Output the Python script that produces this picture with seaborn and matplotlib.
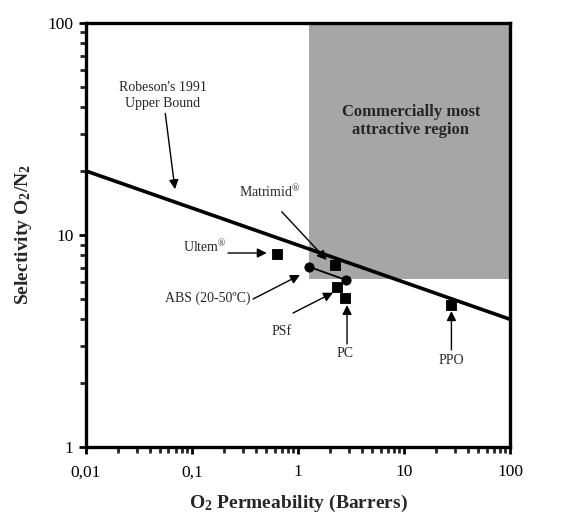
import matplotlib
matplotlib.use("Agg")
import matplotlib.pyplot as plt
import matplotlib.ticker as mticker
from matplotlib.patches import Rectangle
import seaborn as sns
import pandas as pd

# Membrane materials: O2 permeability (Barrer) and O2/N2 selectivity
materials = ["Ultem", "Matrimid", "PSf", "PC", "PPO"]
permeability = [0.64, 2.23, 2.35, 2.78, 27.6]
selectivity = [8.1, 7.17, 5.69, 5.04, 4.67]

# ABS measured between 20 and 50 °C
abs_permeability = [1.27, 2.82]
abs_selectivity = [7.07, 6.13]

# Robeson 1991 upper bound end points
robeson_x = [0.01, 100]
robeson_y = [20, 4]

# Commercially attractive region (x range, y range)
region_x = [1.27, 98]
region_y = [6.2, 97]

x_ticks = [0.01, 0.1, 1, 10, 100]
x_tick_labels = ["0,01", "0,1", "1", "10", "100"]
y_ticks = [1, 10, 100]
y_tick_labels = ["1", "10", "100"]

sns.set_style("ticks")
plt.rcParams["font.family"] = ["Liberation Serif", "DejaVu Serif"]
plt.rcParams["mathtext.fontset"] = "custom"
plt.rcParams["mathtext.rm"] = "Liberation Serif"
plt.rcParams["mathtext.bf"] = "Liberation Serif:bold"
plt.rcParams["mathtext.it"] = "Liberation Serif:italic"
plt.rcParams["mathtext.default"] = "regular"

fig = plt.figure(figsize=(5.64, 5.15), dpi=100)
ax = fig.add_axes([0.1525, 0.132, 0.7518, 0.824])
ax.set_xscale("log")
ax.set_yscale("log")
ax.set_xlim(0.01, 100)
ax.set_ylim(1, 100)

ax.add_patch(Rectangle((region_x[0], region_y[0]), region_x[1] - region_x[0],
                       region_y[1] - region_y[0], facecolor="#a6a6a6",
                       edgecolor="none", zorder=0))

sns.lineplot(x=robeson_x, y=robeson_y, ax=ax, color="black", lw=2.6,
             sort=False, estimator=None, zorder=2)

abs_df = pd.DataFrame({"P": abs_permeability, "S": abs_selectivity})
sns.lineplot(data=abs_df, x="P", y="S", ax=ax, color="black", lw=1.3,
             sort=False, estimator=None, zorder=3)
sns.scatterplot(data=abs_df, x="P", y="S", ax=ax, color="black", marker="o",
                s=45, edgecolor="black", zorder=4)

mat_df = pd.DataFrame({"material": materials, "P": permeability, "S": selectivity})
sns.scatterplot(data=mat_df, x="P", y="S", ax=ax, color="black", marker="s",
                s=60, edgecolor="black", zorder=4)

arrow = dict(arrowstyle="-|>", color="black", lw=1.0, mutation_scale=14,
             shrinkA=0, shrinkB=0)
fs = 10

ax.annotate("Robeson's 1991\nUpper Bound", xy=(0.0691, 16.4), xytext=(0.0532, 38.7),
            ha="center", va="bottom", fontsize=fs, arrowprops=arrow,
            linespacing=1.35)
ax.text(11.6, 34.4, "Commercially most\nattractive region", ha="center",
        va="center", fontsize=12, fontweight="bold", linespacing=1.2)
ax.annotate("Matrimid$^{®}$", xy=(1.866, 7.61), xytext=(0.544, 15.9),
            ha="center", va="center", fontsize=fs)
ax.annotate("", xy=(1.866, 7.61), xytext=(0.702, 12.85), arrowprops=arrow)
ax.annotate("Ultem$^{®}$", xy=(0.507, 8.21), xytext=(0.1327, 8.76),
            ha="center", va="center", fontsize=fs)
ax.annotate("", xy=(0.507, 8.21), xytext=(0.2186, 8.21), arrowprops=arrow)
ax.annotate("ABS (20-50ºC)", xy=(1.044, 6.47), xytext=(0.140, 5.04),
            ha="center", va="center", fontsize=fs)
ax.annotate("", xy=(1.044, 6.47), xytext=(0.376, 4.98), arrowprops=arrow)
ax.annotate("PSf", xy=(2.14, 5.34), xytext=(0.706, 3.52),
            ha="center", va="center", fontsize=fs)
ax.annotate("", xy=(2.14, 5.34), xytext=(0.897, 4.28), arrowprops=arrow)
ax.annotate("PC", xy=(2.90, 4.67), xytext=(2.78, 2.77),
            ha="center", va="center", fontsize=fs)
ax.annotate("", xy=(2.90, 4.67), xytext=(2.90, 3.06), arrowprops=arrow)
ax.annotate("PPO", xy=(28.0, 4.37), xytext=(28.2, 2.57),
            ha="center", va="center", fontsize=fs)
ax.annotate("", xy=(28.0, 4.37), xytext=(28.0, 2.87), arrowprops=arrow)

ax.set_xticks(x_ticks)
ax.set_xticklabels(x_tick_labels)
ax.set_yticks(y_ticks)
ax.set_yticklabels(y_tick_labels)
ax.xaxis.set_minor_locator(mticker.LogLocator(base=10, subs=range(2, 10)))
ax.yaxis.set_minor_locator(mticker.LogLocator(base=10, subs=range(2, 10)))
ax.xaxis.set_minor_formatter(mticker.NullFormatter())
ax.yaxis.set_minor_formatter(mticker.NullFormatter())
ax.tick_params(axis="both", which="major", direction="out", length=5, width=2,
               labelsize=12.5, colors="black")
ax.tick_params(axis="both", which="minor", direction="out", length=4, width=2)
ax.tick_params(axis="x", which="major", pad=7.5)
ax.tick_params(axis="y", which="major", pad=4)
ax.tick_params(top=False, right=False, which="both")

for side in ["left", "right", "top", "bottom"]:
    ax.spines[side].set_visible(True)
    ax.spines[side].set_linewidth(2.4)
    ax.spines[side].set_color("black")

ax.set_xlabel(r"O$_\mathbf{2}$ Permeability (Barrers)", fontsize=14,
              fontweight="bold", labelpad=9)
ax.set_ylabel(r"Selectivity O$_\mathbf{2}$/N$_\mathbf{2}$", fontsize=14,
              fontweight="bold", labelpad=10)

fig.savefig("out.png", dpi=100)
